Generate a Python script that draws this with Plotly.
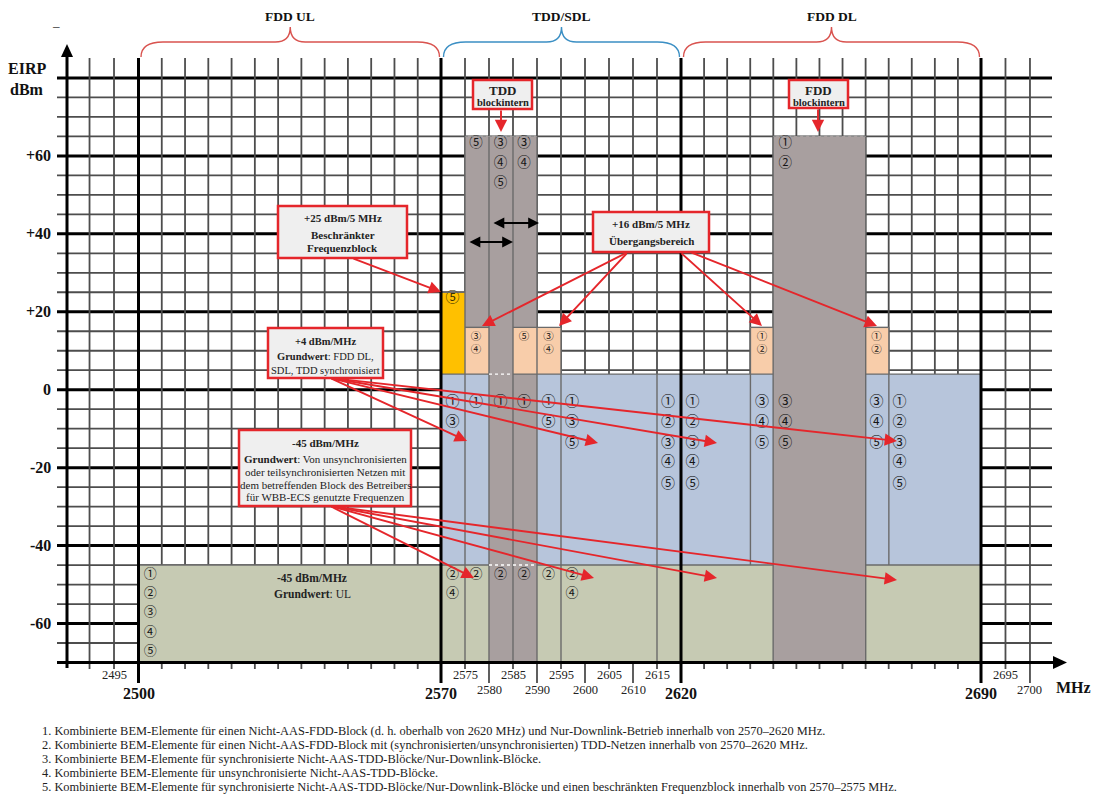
import numpy as np
import plotly.graph_objects as go

W, H = 1096, 800

# ---------------------------------------------------------------- scales
# The drawing's frequency axis is schematic (piecewise linear in MHz)
SCALE_MHZ = [2485.4, 2500, 2570, 2620, 2690, 2704.5]
SCALE_POS = [67, 138.5, 441, 681, 981, 1052]
# EIRP axis: 0 dBm at 389.7 px from top, 3.897 px per dB
Y0_PX, PX_PER_DB = 389.7, 3.897


def X(f):
    return np.interp(f, SCALE_MHZ, SCALE_POS)


def YD(py):  # page pixel row -> dB (for layout placement only)
    return (Y0_PX - py) / PX_PER_DB


# ---------------------------------------------------------------- data
BAND_EDGES_MHZ = [2500, 2570, 2620, 2690]
BAND_NAMES = ["FDD UL", "TDD/SDL", "FDD DL"]

EIRP_TICKS = [60, 40, 20, 0, -20, -40, -60]
FREQ_MAJOR = [2500, 2570, 2620, 2690]
FREQ_MINOR_UPPER = [2495, 2575, 2585, 2595, 2605, 2615, 2695]
FREQ_MINOR_LOWER = [2580, 2590, 2600, 2610, 2700]

# EIRP blocks (draw order): left/right edge MHz, lower/upper EIRP
BLOCK_F0 = [2500, 2570, 2575, 2580, 2641.5, 2570, 2575, 2585, 2590, 2636.2, 2663.1]
BLOCK_F1 = [2690, 2690, 2590, 2590, 2663.1, 2575, 2580, 2590, 2595, 2641.5, 2668.5]
BLOCK_LO = [-70, -45, 16, -70, -70, 4, 4, 4, 4, 4, 4]
BLOCK_HI = [-45, 4, 65, 16, 65, 25, 16, 16, 16, 16, 16]
BLOCK_KIND = ["ul", "base", "intern", "intern", "intern", "restricted",
              "transition", "transition", "transition", "transition", "transition"]

# block separators
SEP_MHZ = [2575, 2580, 2585, 2590, 2595, 2615, 2636.2, 2641.5, 2663.1, 2668.5]
SEP_LO = [-70, -70, -70, -70, -70, -70, -45, -70, -70, -45]
SEP_HI = [65, 65, 65, 65, 16, 4, 16, 65, 65, 16]
HSEP_F0 = [2500, 2590, 2663.1, 2570, 2585, 2663.1, 2575, 2585, 2636.2, 2663.1, 2570]
HSEP_F1 = [2580, 2641.5, 2690, 2580, 2641.5, 2690, 2580, 2595, 2641.5, 2668.5, 2575]
HSEP_DB = [-45, -45, -45, 4, 4, 4, 16, 16, 16, 16, 25]

# circled BEM element numbers
BLUE_COL_MHZ = [2572.4, 2577.3, 2582.4, 2587.3, 2592.4, 2597.3, 2617.3, 2622.7,
                2638.9, 2644.3, 2665.6, 2671.0]
BLUE_COL_ITEMS = ["13", "1", "1", "1", "15", "135", "12345", "12345",
                  "345", "345", "345", "12345"]
BLUE_ROWS_DB = [-3.2, -8.4, -13.7, -18.8, -24.2]

GREEN_COL_MHZ = [2502.7, 2572.4, 2577.3, 2582.4, 2587.3, 2592.4, 2597.3]
GREEN_COL_ITEMS = ["12345", "24", "2", "2", "2", "2", "24"]
GREEN_ROWS_DB = [-47.4, -52.3, -57.3, -62.4, -67.3]

INTERN_COL_MHZ = [2577.3, 2582.4, 2587.3, 2644.3]
INTERN_COL_ITEMS = ["5", "345", "34", "12"]
INTERN_ROWS_DB = [63.2, 58.0, 53.0]

TRANS_COL_MHZ = [2577.3, 2587.3, 2592.4, 2638.9, 2665.6]
TRANS_COL_ITEMS = ["34", "5", "34", "12", "12"]
TRANS_ROWS_DB = [13.5, 10.2]

RESTR_COL_MHZ = [2572.4]
RESTR_COL_ITEMS = ["5"]
RESTR_ROWS_DB = [23.3]

FOOTNOTES = [
    "1. Kombinierte BEM-Elemente für einen Nicht-AAS-FDD-Block (d. h. oberhalb von 2620 MHz) und Nur-Downlink-Betrieb innerhalb von 2570–2620 MHz.",
    "2. Kombinierte BEM-Elemente für einen Nicht-AAS-FDD-Block mit (synchronisierten/unsynchronisierten) TDD-Netzen innerhalb von 2570–2620 MHz.",
    "3. Kombinierte BEM-Elemente für synchronisierte Nicht-AAS-TDD-Blöcke/Nur-Downlink-Blöcke.",
    "4. Kombinierte BEM-Elemente für unsynchronisierte Nicht-AAS-TDD-Blöcke.",
    "5. Kombinierte BEM-Elemente für synchronisierte Nicht-AAS-TDD-Blöcke/Nur-Downlink-Blöcke und einen beschränkten Frequenzblock innerhalb von 2570–2575 MHz.",
]

# ---------------------------------------------------------------- styles
SERIF = "Liberation Serif, Times New Roman, serif"
CIRC = "Noto Sans CJK JP, DejaVu Sans"
KIND_COLOR = {"ul": "#c6cab3", "base": "#b7c5db", "intern": "#a89f9f",
              "restricted": "#ffc000", "transition": "#f8cdaa"}
RED = "#e5262b"
GRID_THIN = "#4d4d4d"
CIRCLED = {"1": "①", "2": "②", "3": "③", "4": "④", "5": "⑤"}

fig = go.Figure()
shapes = []
ann = []


def line(x0, y0, x1, y1, color, width, dash=None, layer="above"):
    d = dict(color=color, width=width)
    if dash:
        d["dash"] = dash
    shapes.append(dict(type="line", xref="x", yref="y", x0=x0, y0=y0, x1=x1, y1=y1,
                       line=d, layer=layer))


# ---------------------------------------------------------------- grid
top_db = YD(58)
for v in np.arange(-65, 85, 5):
    thick = v % 20 == 0
    line(57, v, 1052, v, "black" if thick else GRID_THIN, 3 if thick else 1.8, layer="below")

grid_f = ([2490, 2495] + list(np.linspace(2500, 2570, 14)[1:-1]) +
          list(np.arange(2575, 2620, 5)) + list(np.linspace(2620, 2690, 14)[1:-1]) +
          [2695, 2700])
for f in grid_f:
    long_tick = any(abs(f - g) < 1e-6 for g in FREQ_MINOR_LOWER)
    bottom = YD(683) if long_tick else YD(669)
    line(X(f), bottom, X(f), top_db, GRID_THIN, 1.8, layer="below")

# ---------------------------------------------------------------- blocks (bars)
for kind in ["ul", "base", "intern", "restricted", "transition"]:
    idx = [i for i, k in enumerate(BLOCK_KIND) if k == kind]
    x0 = [X(BLOCK_F0[i]) for i in idx]
    wd = [X(BLOCK_F1[i]) - X(BLOCK_F0[i]) for i in idx]
    fig.add_trace(go.Bar(
        x=x0, width=wd, offset=0, base=[BLOCK_LO[i] for i in idx],
        y=[BLOCK_HI[i] - BLOCK_LO[i] for i in idx],
        marker=dict(color=KIND_COLOR[kind], line=dict(width=0)),
        showlegend=False, hoverinfo="skip"))

# block outlines
SEP_COLOR = "#6a6a6a"
for f, lo, hi in zip(SEP_MHZ, SEP_LO, SEP_HI):
    line(X(f), lo, X(f), hi, SEP_COLOR, 1.4)
for f0, f1, v in zip(HSEP_F0, HSEP_F1, HSEP_DB):
    line(X(f0), v, X(f1), v, SEP_COLOR, 1.4)
# dotted upper edges of block-internal limits
line(X(2575), 65, X(2590), 65, "#8c8c8c", 1.4, dash="dot")
line(X(2641.5), 65, X(2663.1), 65, "#8c8c8c", 1.4, dash="dot")
line(X(2580), 4, X(2585), 4, "white", 1.4, dash="dot")
line(X(2580), -45, X(2590), -45, "white", 1.4, dash="dot")

# thick band edges and axes on top
for f in BAND_EDGES_MHZ:
    line(X(f), YD(683), X(f), top_db, "black", 3)
line(67, YD(668), 67, YD(56), "black", 3)
line(57, -70, 1054, -70, "black", 3)
shapes.append(dict(type="path", xref="x", yref="y", fillcolor="black", line=dict(width=0),
                   path=f"M 61,{YD(57)} L 73,{YD(57)} L 67,{YD(44)} Z"))
shapes.append(dict(type="path", xref="x", yref="y", fillcolor="black", line=dict(width=0),
                   path=f"M 1053,{YD(656)} L 1053,{YD(669)} L 1067,{YD(662.5)} Z"))

# ---------------------------------------------------------------- circled labels
def add_labels(col_mhz, col_items, rows, size, color="#151515"):
    xs, ys, ts = [], [], []
    for f, items in zip(col_mhz, col_items):
        for r, ch in zip(rows, items):
            xs.append(X(f))
            ys.append(r)
            ts.append(CIRCLED[ch])
    fig.add_trace(go.Scatter(x=xs, y=ys, text=ts, mode="text",
                             textfont=dict(family=CIRC, size=size, color=color),
                             showlegend=False, hoverinfo="skip"))


add_labels(BLUE_COL_MHZ, BLUE_COL_ITEMS, BLUE_ROWS_DB, 14)
add_labels(GREEN_COL_MHZ, GREEN_COL_ITEMS, GREEN_ROWS_DB, 13)
add_labels(INTERN_COL_MHZ, INTERN_COL_ITEMS, INTERN_ROWS_DB, 13.5)
add_labels(TRANS_COL_MHZ, TRANS_COL_ITEMS, TRANS_ROWS_DB, 10.5)
add_labels(RESTR_COL_MHZ, RESTR_COL_ITEMS, RESTR_ROWS_DB, 14, "#3a2f00")

# ---------------------------------------------------------------- braces
BRACE_COLORS = ["#d9534f", "#3b8fc4", "#d9534f"]
yb, ym, yt = YD(57), YD(42), YD(27)
for i, name in enumerate(BAND_NAMES):
    x0 = X(BAND_EDGES_MHZ[i]) + 2.5
    x1 = X(BAND_EDGES_MHZ[i + 1]) - 1.5
    c = (x0 + x1) / 2
    path = (f"M {x0},{yb} Q {x0},{ym} {x0 + 22},{ym} L {c - 15},{ym} "
            f"Q {c},{ym} {c},{yt} Q {c},{ym} {c + 15},{ym} L {x1 - 22},{ym} "
            f"Q {x1},{ym} {x1},{yb}")
    shapes.append(dict(type="path", xref="x", yref="y", path=path,
                       line=dict(color=BRACE_COLORS[i], width=1.4)))
    ann.append(dict(x=c, y=YD(16), text=f"<b>{name}</b>", showarrow=False,
                    font=dict(family=SERIF, size=13.5, color="#111")))

# ---------------------------------------------------------------- axis labels
for v in EIRP_TICKS:
    t = f"+{v}" if v > 0 else str(v)
    ann.append(dict(x=53, y=v, text=f"<b>{t}</b>", showarrow=False, xanchor="right",
                    font=dict(family=SERIF, size=16, color="#111")))
ann.append(dict(x=27, y=YD(68), text="<b>EIRP</b>", showarrow=False,
                font=dict(family=SERIF, size=16, color="#111")))
ann.append(dict(x=27, y=YD(89), text="<b>dBm</b>", showarrow=False,
                font=dict(family=SERIF, size=16, color="#111")))
ann.append(dict(x=56, y=YD(25), text="–", showarrow=False,
                font=dict(family=SERIF, size=13, color="#111")))
for f in FREQ_MAJOR:
    ann.append(dict(x=X(f), y=YD(693), text=f"<b>{f}</b>", showarrow=False,
                    font=dict(family=SERIF, size=16, color="#111")))
for f in FREQ_MINOR_UPPER:
    ann.append(dict(x=X(f), y=YD(675), text=str(f), showarrow=False,
                    font=dict(family=SERIF, size=12.5, color="#222")))
for f in FREQ_MINOR_LOWER:
    ann.append(dict(x=X(f), y=YD(690), text=str(f), showarrow=False,
                    font=dict(family=SERIF, size=12.5, color="#222")))
ann.append(dict(x=1073, y=YD(687), text="<b>MHz</b>", showarrow=False,
                font=dict(family=SERIF, size=16, color="#111")))

# UL base text
ann.append(dict(x=312, y=YD(578), text="<b>-45 dBm/MHz</b>", showarrow=False,
                font=dict(family=SERIF, size=11.5, color="#222")))
ann.append(dict(x=312, y=YD(594), text="<b>Grundwert</b>: UL", showarrow=False,
                font=dict(family=SERIF, size=11.5, color="#222")))

# ---------------------------------------------------------------- callouts
CALLOUTS = [
    ((473, 80, 532, 109), [("<b>TDD</b>", 90, 13), ("<b>blockintern</b>", 102, 10.5)]),
    ((789, 80, 848, 108), [("<b>FDD</b>", 90, 13), ("<b>blockintern</b>", 102, 10.5)]),
    ((278, 206, 407, 258), [("<b>+25 dBm/5 MHz</b>", 218, 11), ("<b>Beschränkter</b>", 235, 11),
                            ("<b>Frequenzblock</b>", 248, 11)]),
    ((593, 212, 709, 252), [("<b>+16 dBm/5 MHz</b>", 224, 11), ("<b>Übergangsbereich</b>", 241, 11)]),
    ((268, 328, 383, 378), [("<b>+4 dBm/MHz</b>", 341, 10.5), ("<b>Grundwert</b>: FDD DL,", 356, 10.5),
                            ("SDL, TDD synchronisiert", 370, 10.5)]),
    ((239, 430, 411, 506), [("<b>-45 dBm/MHz</b>", 443, 11),
                            ("<b>Grundwert</b>: Von unsynchronisierten", 459, 11),
                            ("oder teilsynchronisierten Netzen mit", 472, 11),
                            ("dem betreffenden Block des Betreibers", 485, 11),
                            ("für WBB-ECS genutzte Frequenzen", 497, 11)]),
]
ARROWS = [
    ((352, 258), (441, 292)),
    ((628, 252), (482, 326)), ((628, 252), (559, 326)),
    ((680, 252), (762, 326)), ((690, 252), (877, 326)),
    ((330, 378), (467, 441)), ((330, 378), (598, 443)),
    ((330, 378), (717, 443)), ((330, 378), (897, 441)),
    ((330, 506), (474, 578)), ((330, 506), (594, 578)),
    ((330, 506), (717, 578)), ((330, 506), (897, 580)),
    ((501, 109), (501, 132)), ((818, 108), (818, 132)),
]
for (tx, ty), (hx, hy) in ARROWS:
    ann.append(dict(x=hx, y=YD(hy), ax=tx, ay=YD(ty), axref="x", ayref="y", text="",
                    showarrow=True, arrowhead=2, arrowsize=1.3, arrowwidth=1.9,
                    arrowcolor=RED, standoff=0, startstandoff=0))
for (x0, x1, py) in [(468, 513, 242), (492, 539, 223)]:
    ann.append(dict(x=x1, y=YD(py), ax=x0, ay=YD(py), axref="x", ayref="y", text="",
                    showarrow=True, arrowhead=2, arrowsize=1.2, arrowwidth=1.8,
                    arrowside="end+start", arrowcolor="black", standoff=0, startstandoff=0))

for (bx0, by0, bx1, by1), lines in CALLOUTS:
    shapes.append(dict(type="rect", xref="x", yref="y", x0=bx0, x1=bx1, y0=YD(by0), y1=YD(by1),
                       fillcolor="#efefef", line=dict(color=RED, width=2.5), layer="above"))
    for t, py, fs in lines:
        ann.append(dict(x=(bx0 + bx1) / 2, y=YD(py), text=t, showarrow=False,
                        font=dict(family=SERIF, size=fs, color="#222")))

# footnotes
for i, t in enumerate(FOOTNOTES):
    ann.append(dict(x=40, y=YD(731 + 14 * i), text=t, showarrow=False, xanchor="left",
                    font=dict(family=SERIF, size=12.4, color="#222")))

fig.update_layout(
    width=W, height=H, margin=dict(l=0, r=0, t=0, b=0),
    paper_bgcolor="white", plot_bgcolor="white", barmode="overlay", bargap=0,
    xaxis=dict(range=[0, W], visible=False, fixedrange=True),
    yaxis=dict(range=[YD(H), YD(0)], visible=False, fixedrange=True),
    shapes=shapes, annotations=ann, showlegend=False,
)
fig.write_html("out.html")
